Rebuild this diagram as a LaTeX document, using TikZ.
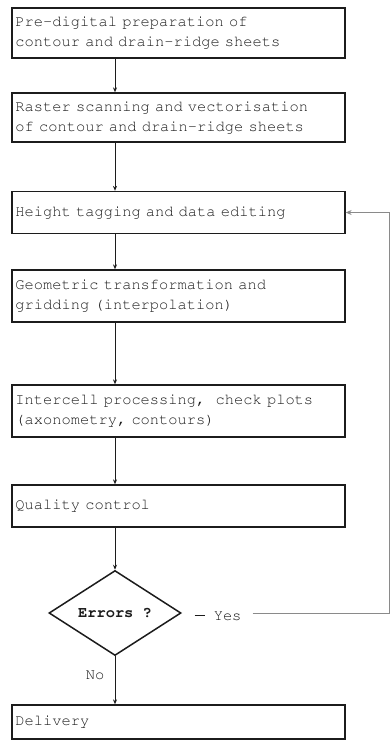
\documentclass[tikz,border=0pt]{standalone}
\usetikzlibrary{shapes.geometric, arrows.meta, positioning, calc}
\definecolor{Ink}{HTML}{1C1C1C}
\definecolor{Dim}{HTML}{8A8A8A}
% typewriter face for all labels
\newcommand\typeface{\fontencoding{T1}\fontfamily{pcr}\fontsize{15.4}{20}\selectfont}

\begin{document}
\begin{tikzpicture}[x=1pt, y=-1pt,
            stage/.style={rectangle, draw=Ink, line width=1.3pt, minimum width=333pt, text width=326pt, inner xsep=2.5pt, inner ysep=0pt, align=left, font=\typeface, text=Ink},
            test/.style={diamond, draw=Ink, line width=1.5pt, minimum width=132pt, minimum height=85pt, inner sep=0pt, font=\typeface\bfseries, text=Ink},
            arrow/.style={-{Stealth[length=5pt, width=4pt]}, line width=1pt, color=Ink},
            back/.style={-{Stealth[length=6pt, width=5pt]}, line width=0.9pt, color=Dim},
            lbl/.style={font=\typeface, text=Ink, inner sep=1pt}
        ]
            \useasboundingbox (0,0) rectangle (391,742);

            % Processing chain
            \node[stage, minimum height=50pt] (prep) at (178.5,33) {Pre-digital preparation of\\contour and drain-ridge sheets};
            \node[stage, minimum height=49pt] (scan) at (178.5,117.5) {Raster scanning and vectorisation\\of contour and drain-ridge sheets};
            \node[stage, minimum height=42pt] (tag) at (178.5,212.5) {Height tagging and data editing};
            \node[stage, minimum height=52pt] (geo) at (178.5,296) {Geometric transformation and\\gridding (interpolation)};
            \node[stage, minimum height=52pt] (inter) at (178.5,411) {Intercell processing,\ \ check plots\\(axonometry, contours)};
            \node[stage, minimum height=42pt] (qc) at (178.5,506) {Quality control};

            % Decision and output
            \node[test] (err) at (115,613) {Errors ?};
            \node[stage, minimum height=34pt] (deliv) at (178.5,722) {Delivery};

            \node[lbl] (yes) at (218,616) {\rule[4pt]{10pt}{1pt}\ Yes};
            \node[lbl] (no) at (95,675) {No};
            \coordinate (turn) at (389,613);

            % Main flow
            \draw[arrow] (prep.south -| err) -- (scan.north -| err);
            \draw[arrow] (scan.south -| err) -- (tag.north -| err);
            \draw[arrow] (tag.south -| err) -- (geo.north -| err);
            \draw[arrow] (geo.south -| err) -- (inter.north -| err);
            \draw[arrow] (inter.south -| err) -- (qc.north -| err);
            \draw[arrow] (qc.south -| err) -- (err.north);
            \draw[arrow] (err.south) -- (deliv.north -| err);

            % Back to editing on errors
            \draw[back] (yes.east) ++(10,-3) -- (turn) |- (tag.east);
        \end{tikzpicture}
\end{document}
